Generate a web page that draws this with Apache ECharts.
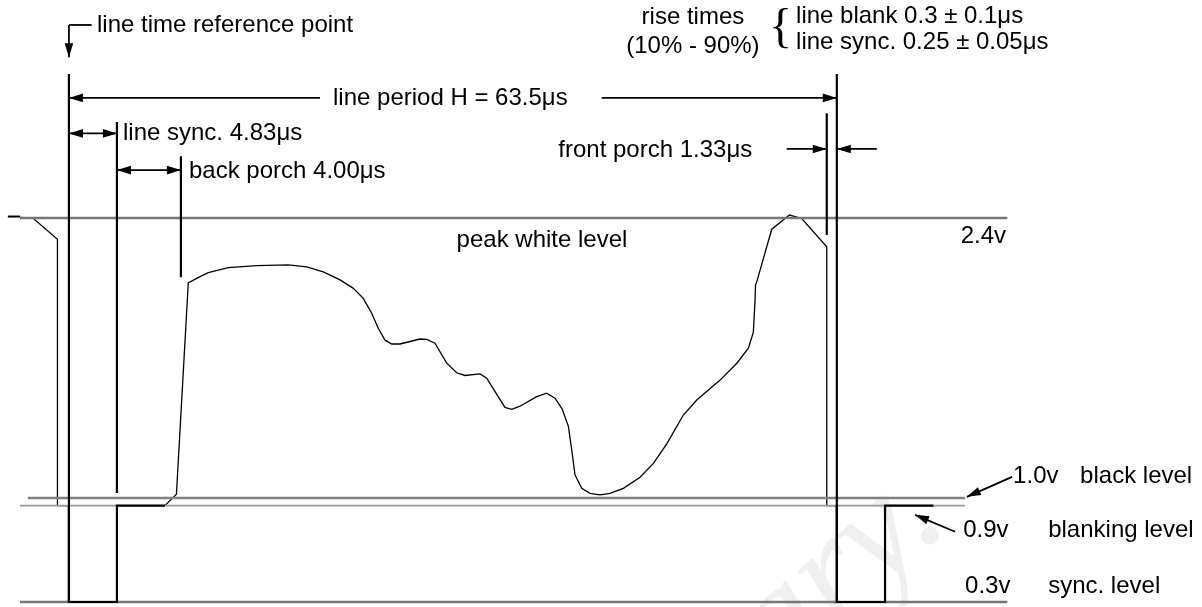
<!DOCTYPE html>
<html>
<head>
<meta charset="utf-8">
<title>Line timing</title>
<script src="https://cdn.jsdelivr.net/npm/echarts@6/dist/echarts.min.js"></script>
<style>
  html, body { margin: 0; padding: 0; background: #fff; }
  #chart { width: 1202px; height: 607px; }
</style>
</head>
<body>
<div id="chart"></div>
<script>
// diagram units: x = time in µs from the line reference point (as drawn, not to scale)
// y = level in % of the sync -> peak white span (as drawn)
const xRange = [-5.7, 93.7]
const yRange = [-1.3, 156.8]

// signal levels
const levelNames = ['peak white level', 'black level', 'blanking level', 'sync. level']
const levelVolts = ['2.4v', '1.0v', '0.9v', '0.3v']
const levelValues = [100, 27.1, 25.1, 0]
const levelSpans = [[-4.05, 77.6], [-3.4, 74.1], [-4.05, 74.1], [-4.05, 77.6]]

// waveform pieces
const prevLineEnd = [[-5.05, 100.4], [-4.05, 100.4]]
const prevLineTail = [[-4.05, 100.2], [-2.98, 100], [-0.95, 94.5], [-0.95, 25.1], [0, 25.1]]
const syncPulse1 = [[0, 25.1], [0, 0], [3.97, 0], [3.97, 25.1], [7.94, 25.1]]
const videoLine = [
  [7.94, 25.1], [8.89, 28.1], [9.87, 83.1], [10.56, 84.3], [11.52, 85.8], [13.18, 87.1],
  [15.53, 87.6], [18.14, 87.8], [19.66, 87.3], [21.03, 86.0], [22.42, 83.9], [23.52, 81.7],
  [24.34, 79.1], [25.04, 75.2], [25.58, 71.3], [26.14, 68.2], [26.69, 67.2], [27.38, 67.2],
  [29.03, 68.5], [29.59, 68.4], [30.27, 67.4], [31.24, 62.2], [32.07, 59.7], [32.75, 59.0],
  [34.0, 59.4], [34.55, 58.3], [35.24, 54.8], [36.06, 50.7], [36.62, 50.2], [37.3, 51.0],
  [38.68, 53.5], [39.51, 54.4], [40.2, 53.1], [40.78, 50.3], [41.3, 45.8], [41.58, 39.6],
  [41.85, 33.1], [42.41, 29.6], [43.09, 28.3], [43.92, 27.9], [44.75, 28.3], [45.85, 29.6],
  [47.23, 32.5], [48.33, 36.1], [49.44, 41.2], [50.81, 48.7], [51.92, 52.6], [53.85, 57.8],
  [55.23, 62.2], [56.19, 66.1], [56.6, 70.3], [56.74, 78.7], [56.78, 82.6], [56.88, 83.4],
  [58.12, 97.1], [59.58, 100.8], [60.6, 99.9], [62.67, 92.5], [62.67, 25.1], [63.5, 25.1]
]
const syncPulse2 = [[63.5, 25.1], [63.5, 0], [67.49, 0], [67.49, 25.1], [71.49, 25.1]]

// timing marks: [time, from level, to level]
const timingMarks = [
  [0, 0, 137.5],
  [3.97, 28.4, 125.0],
  [9.26, 84.6, 116.1],
  [62.67, 95.6, 127.3],
  [63.5, 0, 137.5]
]

// dimension arrows: [x1, y1, x2, y2] and where the heads go
const arrowLines = [
  [1.88, 150.3, 0, 150.3], [0, 150.3, 0, 141.9],
  [0, 131.3, 20.76, 131.3], [44.06, 131.3, 63.5, 131.3],
  [0, 122.05, 3.97, 122.05],
  [3.97, 112.5, 9.26, 112.5],
  [59.36, 118.0, 62.67, 118.0], [66.81, 118.0, 63.5, 118.0],
  [78.0, 32.6, 74.25, 27.4],
  [73.28, 18.3, 69.97, 22.7]
]
const arrowHeads = ['none', 'end', 'start', 'end', 'both', 'both', 'end', 'end', 'end', 'end']

// text: [text, x, y, align]
const notes = [
  ['line time reference point', 2.32, 150.3, 'left'],
  ['line period H = 63.5\u03bcs', 21.84, 131.25, 'left'],
  ['line sync. 4.83\u03bcs', 4.47, 122.1, 'left'],
  ['back porch 4.00\u03bcs', 9.93, 112.2, 'left'],
  ['front porch 1.33\u03bcs', 40.47, 117.7, 'left'],
  ['rise times', 51.6, 152.3, 'center'],
  ['(10% - 90%)', 51.6, 144.8, 'center'],
  ['line blank 0.3 \u00b1 0.1\u03bcs', 60.13, 152.6, 'left'],
  ['line sync. 0.25 \u00b1 0.05\u03bcs', 60.13, 145.8, 'left'],
  [levelNames[0], 39.12, 94.3, 'center'],
  [levelVolts[0], 77.5, 95.3, 'right'],
  [levelVolts[1], 78.08, 32.6, 'left'],
  [levelNames[1], 83.62, 32.6, 'left'],
  [levelVolts[2], 73.95, 18.75, 'left'],
  [levelNames[2], 80.98, 18.75, 'left'],
  [levelVolts[3], 74.11, 4.17, 'left'],
  [levelNames[3], 80.98, 4.17, 'left']
]
const braceAt = [58.85, 149.2]

const FONT = '"Liberation Sans", Arial, Helvetica, sans-serif'
const levelColors = ['#777777', '#808080', '#9a9a9a', '#777777']
const levelWidths = [2.4, 2.4, 1.8, 2.4]

function pathSeries(name, data, width, color, z) {
  return {
    name,
    type: 'line',
    data,
    symbol: 'none',
    silent: true,
    clip: false,
    z,
    lineStyle: { width, color, cap: 'butt', join: 'miter' }
  }
}

function headPoints(tip, from, len, half) {
  const dx = tip[0] - from[0]
  const dy = tip[1] - from[1]
  const d = Math.sqrt(dx * dx + dy * dy) || 1
  const ux = dx / d
  const uy = dy / d
  const bx = tip[0] - ux * len
  const by = tip[1] - uy * len
  return [tip, [bx - uy * half, by + ux * half], [bx + uy * half, by - ux * half]]
}

const series = []

levelValues.forEach((v, i) => {
  series.push(pathSeries(levelNames[i], [[levelSpans[i][0], v], [levelSpans[i][1], v]], levelWidths[i], levelColors[i], 3))
})

series.push(pathSeries('previous line end', prevLineEnd, 2, '#000', 2))
series.push(pathSeries('previous line', prevLineTail, 1.3, '#000', 2))
series.push(pathSeries('video', videoLine, 1.3, '#000', 2))
series.push(pathSeries('sync 1', syncPulse1, 2.2, '#000', 4))
series.push(pathSeries('sync 2', syncPulse2, 2.2, '#000', 4))

timingMarks.forEach((m, i) => {
  series.push(pathSeries('mark ' + i, [[m[0], m[1]], [m[0], m[2]]], 2.2, '#000', 4))
})

series.push({
  name: 'arrows',
  type: 'custom',
  silent: true,
  z: 5,
  data: arrowLines,
  renderItem: (params, api) => {
    const a = arrowLines[params.dataIndex]
    const p1 = api.coord([a[0], a[1]])
    const p2 = api.coord([a[2], a[3]])
    const mode = arrowHeads[params.dataIndex]
    const children = [{
      type: 'line',
      shape: { x1: p1[0], y1: p1[1], x2: p2[0], y2: p2[1] },
      style: { stroke: '#000', lineWidth: 1.8 }
    }]
    if (mode === 'end' || mode === 'both') {
      children.push({ type: 'polygon', shape: { points: headPoints(p2, p1, 14, 4.3) }, style: { fill: '#000' } })
    }
    if (mode === 'start' || mode === 'both') {
      children.push({ type: 'polygon', shape: { points: headPoints(p1, p2, 14, 4.3) }, style: { fill: '#000' } })
    }
    return { type: 'group', children }
  }
})

series.push({
  name: 'notes',
  type: 'custom',
  silent: true,
  z: 6,
  data: notes.map(n => [n[1], n[2]]),
  renderItem: (params, api) => {
    const n = notes[params.dataIndex]
    const p = api.coord([n[1], n[2]])
    return {
      type: 'text',
      x: p[0],
      y: p[1],
      style: { text: n[0], fill: '#000', font: '24px ' + FONT, align: n[3], verticalAlign: 'middle' }
    }
  }
})

series.push({
  name: 'brace',
  type: 'custom',
  silent: true,
  z: 6,
  data: [braceAt],
  renderItem: (params, api) => {
    const p = api.coord(braceAt)
    return {
      type: 'text',
      x: p[0],
      y: p[1],
      style: { text: '{', fill: '#000', font: '48px "Liberation Serif", serif', align: 'center', verticalAlign: 'middle' }
    }
  }
})

const option = {
  animation: false,
  backgroundColor: '#fff',
  grid: { left: 0, right: 0, top: 0, bottom: 0 },
  xAxis: { type: 'value', min: xRange[0], max: xRange[1], show: false },
  yAxis: { type: 'value', min: yRange[0], max: yRange[1], show: false },
  graphic: [{
    type: 'text',
    z: -10,
    silent: true,
    x: 975,
    y: 552,
    rotation: 42 * Math.PI / 180,
    style: {
      text: 'Preliminary.',
      font: 'italic 150px "Liberation Serif", serif',
      fill: '#efefef',
      align: 'right',
      verticalAlign: 'bottom'
    }
  }],
  series
}

const chart = echarts.init(document.getElementById('chart'))
chart.setOption(option)
window.addEventListener('resize', () => chart.resize())
</script>
</body>
</html>
